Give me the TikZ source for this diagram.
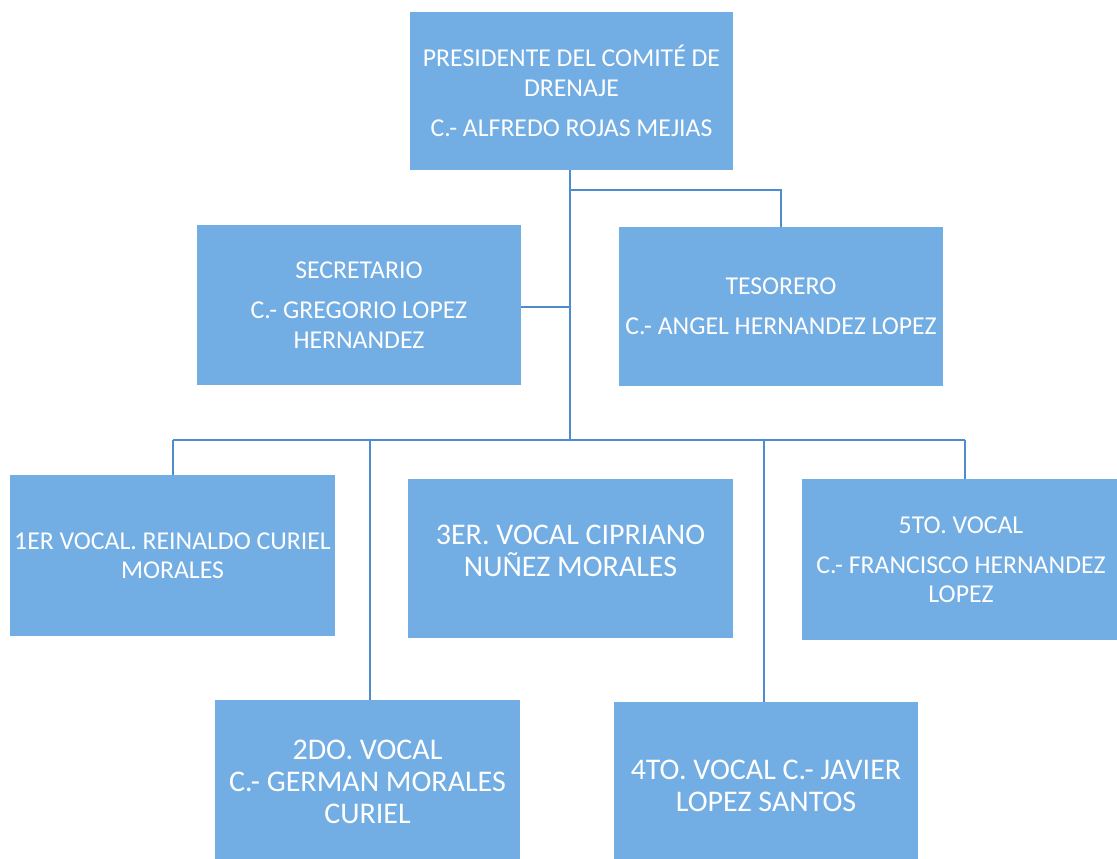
\documentclass[tikz,border=0pt]{standalone}
\usepackage{fontspec}
\setmainfont{Carlito}
\definecolor{boxfill}{RGB}{114,173,228}
\definecolor{linecol}{RGB}{78,140,208}
\begin{document}
\begin{tikzpicture}[x=0.75pt,y=-0.75pt,
  orgbox/.style={fill=boxfill,draw=none,text=white,align=center,inner sep=0pt,font=\fontsize{19.3}{22}\selectfont},
  bigbox/.style={orgbox,font=\fontsize{22.5}{24}\selectfont},
  conn/.style={draw=linecol,line width=1.5pt}]
\useasboundingbox (0,0) rectangle (1117,858);
\clip (0,0) rectangle (1117,858);
\fill[white] (0,0) rectangle (1117,858);
% boxes
\node[orgbox,minimum width=323*0.75pt,minimum height=158*0.75pt] (pres) at (571.5,91)
  {PRESIDENTE DEL COMITÉ DE\\DRENAJE\\[8pt]C.- ALFREDO ROJAS MEJIAS};
\node[orgbox,minimum width=324*0.75pt,minimum height=160*0.75pt] (sec) at (359,305)
  {SECRETARIO\\[8pt]C.- GREGORIO LOPEZ\\HERNANDEZ};
\node[orgbox,minimum width=324*0.75pt,minimum height=159*0.75pt] (tes) at (781,306.5)
  {TESORERO\\[8pt]C.- ANGEL HERNANDEZ LOPEZ};
\node[orgbox,minimum width=325*0.75pt,minimum height=161*0.75pt] (v1) at (172.5,555.5)
  {1ER VOCAL. REINALDO CURIEL\\MORALES};
\node[bigbox,minimum width=325*0.75pt,minimum height=159*0.75pt,text depth=11.5pt] (v3) at (570.5,558.5)
  {3ER. VOCAL CIPRIANO\\NUÑEZ MORALES};
\node[orgbox,minimum width=318*0.75pt,minimum height=161*0.75pt] (v5) at (961,559.5)
  {5TO. VOCAL\\[8pt]C.- FRANCISCO HERNANDEZ\\LOPEZ};
\node[bigbox,minimum width=305*0.75pt,minimum height=164*0.75pt] (v2) at (367.5,782)
  {2DO. VOCAL\\C.- GERMAN MORALES\\CURIEL};
\node[bigbox,minimum width=304*0.75pt,minimum height=168*0.75pt] (v4) at (766,786)
  {4TO. VOCAL C.- JAVIER\\LOPEZ SANTOS};
% connectors
\coordinate (top) at (570,170);
\coordinate (jt) at (570,190);
\coordinate (js) at (570,307);
\coordinate (jb) at (570,440);
\draw[conn] (top) -- (jb);
\draw[conn] (jt) -- (781,190) -- (tes.north -| 781,0);
\draw[conn] (js) -- (sec.east |- js);
\draw[conn] (173,440) -- (965,440);
\draw[conn] (173,440) -- (v1.north -| 173,0);
\draw[conn] (370,440) -- (v2.north -| 370,0);
\draw[conn] (764,440) -- (v4.north -| 764,0);
\draw[conn] (965,440) -- (v5.north -| 965,0);
\end{tikzpicture}
\end{document}
